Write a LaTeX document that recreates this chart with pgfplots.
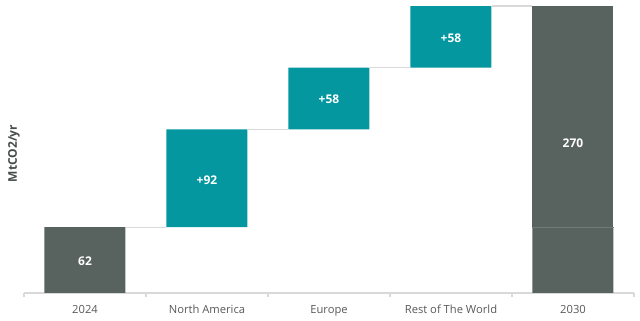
\documentclass[border=0pt]{standalone}
\usepackage{pgfplots}
\pgfplotsset{compat=1.18}
\usepackage{fontspec}
\setmainfont{Open Sans}
\definecolor{teal1}{HTML}{05979F}
\definecolor{slate}{HTML}{58625F}
\definecolor{axgray}{HTML}{D9D9D9}
\definecolor{txtgray}{HTML}{595959}
\definecolor{ylab}{HTML}{454C4A}
\pgfplotsset{commonax/.style={scale only axis, width=457.5pt, height=215.25pt,
  xmin=-0.5, xmax=4.5, ymin=0, ymax=270, clip=false}}
\begin{document}
\begin{tikzpicture}
\begin{axis}[commonax, ybar stacked, bar width=60.75pt,
  axis x line*=bottom, axis y line*=left,
  y axis line style={draw=none}, ytick=\empty,
  x axis line style={axgray, line width=0.8pt},
  xtick={0,1,2,3,4},
  xticklabels={2024, North America, Europe, Rest of The World, 2030},
  major tick length=0pt,
  minor xtick={-0.5,0.5,1.5,2.5,3.5,4.5},
  minor tick length=3pt,
  tick align=outside,
  every tick/.style={axgray, line width=0.8pt},
  xticklabel style={font=\fontsize{8.4}{9}\selectfont, text=txtgray, yshift=-5.5pt},
  ylabel={MtCO2/yr},
  ylabel style={font=\fontsize{9}{10}\selectfont\bfseries, text=ylab, anchor=center,
    at={(axis description cs:-0.0164,0.486)}, rotate=0},
]
\addplot[draw=none, fill=none] coordinates {(0,0) (1,62) (2,154) (3,212) (4,0)};
\addplot[draw=none, fill=slate] coordinates {(0,62) (1,0) (2,0) (3,0) (4,62)};
\addplot[draw=none, fill=teal1] coordinates {(0,0) (1,92) (2,58) (3,58) (4,0)};
\addplot[draw=none, fill=slate] coordinates {(0,0) (1,0) (2,0) (3,0) (4,208)};
\end{axis}
\begin{axis}[commonax, hide axis]
\addplot[axgray, line width=0.8pt] coordinates {(0.332,62) (0.668,62)};
\addplot[axgray, line width=0.8pt] coordinates {(1.332,154) (1.668,154)};
\addplot[axgray, line width=0.8pt] coordinates {(2.332,212) (2.668,212)};
\addplot[axgray, line width=0.8pt] coordinates {(3.332,270) (3.668,270)};
\addplot[slate!85!white, line width=0.5pt] coordinates {(3.668,62) (4.332,62)};
\addplot[only marks, mark=none, point meta=explicit symbolic,
  nodes near coords, nodes near coords align={anchor=center},
  nodes near coords style={font=\fontsize{9}{10}\selectfont\bfseries, text=white, anchor=center}]
  coordinates {(0,30)[62] (1,106)[+92] (2,182.5)[+58] (3,240)[+58] (4,141)[270]};
\end{axis}
\pgfresetboundingbox
\path[use as bounding box] (-18pt,-21pt) rectangle (462pt,219.75pt);
\end{tikzpicture}
\end{document}
